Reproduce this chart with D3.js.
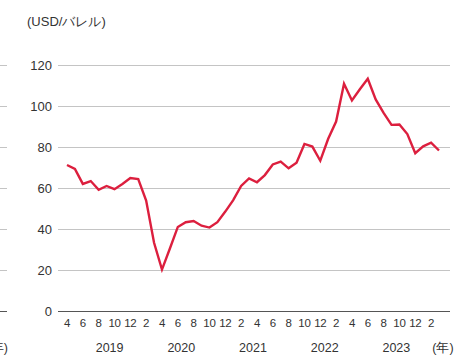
<!DOCTYPE html>
<html>
<head>
<meta charset="utf-8">
<script src="https://cdn.jsdelivr.net/npm/d3@7"></script>
<style>
  html, body { margin: 0; padding: 0; background: #fff; }
  svg { display: block; font-family: "Liberation Sans", Arial, sans-serif; }
</style>
</head>
<body>
<svg id="chart" width="455" height="358"></svg>
<script>
// Monthly crude oil price, April 2019 – March 2023 (USD per barrel)
const price = [
  71.2, 69.3, 62.0, 63.4, 59.1, 61.0, 59.4, 62.0, 64.9,             // 2019 Apr–Dec
  64.4, 53.9, 33.3, 20.2, 30.5, 41.0, 43.3, 43.9, 41.6, 40.7, 43.3, 48.5, // 2020
  54.1, 61.0, 64.7, 62.8, 66.3, 71.5, 72.9, 69.6, 72.3, 81.5, 80.2, 73.3, // 2021
  84.0, 92.4, 110.9, 102.7, 108.2, 113.3, 103.2, 96.6, 90.8, 91.0, 86.3, 77.0, // 2022
  80.3, 82.1, 78.3                                                   // 2023 Jan–Mar
];
// Month labels, one every second month starting April 2019
const monthLabels = ["4","6","8","10","12",
  "2","4","6","8","10","12",
  "2","4","6","8","10","12",
  "2","4","6","8","10","12",
  "2"];
const years = ["2019", "2020", "2021", "2022", "2023"];
const yTicks = [0, 20, 40, 60, 80, 100, 120];
const unitLabel = "(USD/バレル)";
const yearUnit = "(年)";

const svg = d3.select("#chart");
const W = 455;

const x = d3.scaleLinear().domain([0, price.length - 1]).range([67, 439]);
const y = d3.scaleLinear().domain([0, 120]).range([311, 65]);
const yearX = d3.scalePoint().domain(years).range([58, 448]).padding(0.72);

// Stub gridlines along the left edge
svg.append("g")
  .selectAll("line")
  .data(yTicks)
  .join("line")
  .attr("x1", 0).attr("x2", 7)
  .attr("y1", d => y(d) + 0.5).attr("y2", d => y(d) + 0.5)
  .attr("stroke", d => d === 0 ? "#555" : "#c4c4c4")
  .attr("stroke-width", 1);

svg.append("text")
  .attr("x", 8).attr("y", 352)
  .attr("text-anchor", "end")
  .attr("font-size", 12.5)
  .attr("fill", "#333")
  .text(yearUnit);

// Horizontal gridlines
svg.append("g")
  .selectAll("line")
  .data(yTicks)
  .join("line")
  .attr("x1", 58).attr("x2", 450)
  .attr("y1", d => y(d) + 0.5).attr("y2", d => y(d) + 0.5)
  .attr("stroke", d => d === 0 ? "#555" : "#c4c4c4")
  .attr("stroke-width", 1);

// Y axis labels
const yAxis = d3.axisLeft(y).tickValues(yTicks).tickSize(0).tickPadding(0);
const gy = svg.append("g").attr("transform", "translate(52,0)").call(yAxis);
gy.select(".domain").remove();
gy.selectAll("text")
  .attr("font-size", 13)
  .attr("font-family", "Liberation Sans, Arial, sans-serif")
  .attr("fill", "#333");

// Unit label
svg.append("text")
  .attr("x", 27).attr("y", 26)
  .attr("font-size", 13)
  .attr("fill", "#333")
  .text(unitLabel);

// Month labels
svg.append("g")
  .selectAll("text")
  .data(monthLabels)
  .join("text")
  .attr("x", (d, i) => x(i * 2))
  .attr("y", 327)
  .attr("text-anchor", "middle")
  .attr("font-size", 11.5)
  .attr("letter-spacing", -0.3)
  .attr("fill", "#333")
  .text(d => d);

// Year labels
svg.append("g")
  .selectAll("text")
  .data(years)
  .join("text")
  .attr("x", d => yearX(d))
  .attr("y", 352)
  .attr("text-anchor", "middle")
  .attr("font-size", 12.5)
  .attr("fill", "#333")
  .text(d => d);

svg.append("text")
  .attr("x", 443).attr("y", 352)
  .attr("text-anchor", "middle")
  .attr("font-size", 12.5)
  .attr("fill", "#333")
  .text(yearUnit);

// Price line
const line = d3.line()
  .x((d, i) => x(i))
  .y(d => y(d));

svg.append("path")
  .datum(price)
  .attr("d", line)
  .attr("fill", "none")
  .attr("stroke", "#dc1f3e")
  .attr("stroke-width", 2.4)
  .attr("stroke-linejoin", "miter")
  .attr("stroke-linecap", "butt");
</script>
</body>
</html>
